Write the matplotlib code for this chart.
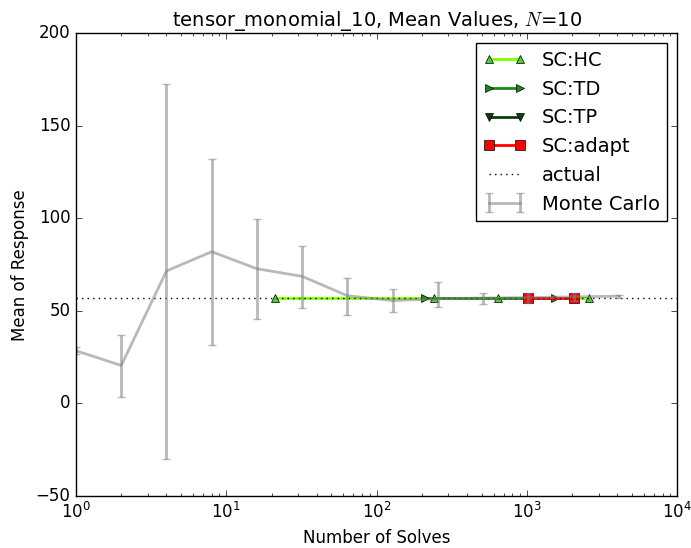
import numpy as np
import matplotlib
matplotlib.use('Agg')
import matplotlib.pyplot as plt

plt.style.use('classic')

# Monte Carlo estimates of the mean
mc_n = [1, 2, 4, 8, 16, 32, 64, 128, 256, 512, 1024, 2048, 4096]
mc_mean = [28.5, 20.5, 71.6, 82.0, 72.8, 68.7, 58.2, 55.6, 56.6, 57.0, 57.2, 57.6, 58.0]
mc_lo = [26.5, 3.5, -30.0, 31.8, 45.8, 51.5, 48.0, 49.5, 52.3, 53.8, 54.5, 55.2, 57.0]
mc_hi = [30.5, 36.8, 172.6, 132.3, 99.7, 85.3, 67.8, 61.8, 65.5, 59.5, 59.5, 59.8, 58.8]

# stochastic collocation results
hc_n = [21, 241, 647, 2585]
hc_mean = [57.0, 57.0, 57.0, 57.0]
td_n = [211, 1542]
td_mean = [57.0, 57.0]
tp_n = [1024]
tp_mean = [57.0]
ad_n = [1024, 2048]
ad_mean = [57.0, 57.0]

actual = 57.0
N = 10

fig = plt.figure(figsize=(6.91, 5.48), dpi=100, facecolor='white')
ax = fig.add_axes([0.110, 0.095, 0.870, 0.844])

ax.plot(hc_n, hc_mean, '-^', color='#7fff00', mfc='#4fd02f', mec='k', lw=2, ms=6, label='SC:HC')
ax.plot(td_n, td_mean, '->', color='#1a8a1a', mfc='#1a8a1a', mec='k', lw=2, ms=6, label='SC:TD')
ax.plot(tp_n, tp_mean, '-v', color='#0d3d0d', mfc='#0d3d0d', mec='k', lw=2, ms=6, label='SC:TP')
ax.plot(ad_n, ad_mean, '-s', color='red', mfc='red', mec='k', lw=2, ms=7, label='SC:adapt')
ax.axhline(actual, color='k', ls=':', lw=1, label='actual')

mean = np.array(mc_mean)
yerr = [mean - np.array(mc_lo), np.array(mc_hi) - mean]
ax.errorbar(mc_n, mc_mean, yerr=yerr, color='gray', alpha=0.55, lw=2,
            capsize=3, capthick=1, label='Monte Carlo')

ax.set_xscale('log')
ax.set_xlim(1, 1e4)
ax.set_ylim(-50, 200)
ax.set_xlabel('Number of Solves', fontsize=12)
ax.set_ylabel('Mean of Response', fontsize=12)
ax.set_title('tensor_monomial_10, Mean Values, $N$=%d' % N, fontsize=14)
ax.tick_params(labelsize=12)

leg = ax.legend(loc='upper right', numpoints=2, fontsize=14, handlelength=2.2)
leg.get_frame().set_edgecolor('k')

fig.savefig('out.png', dpi=100, facecolor='white')
